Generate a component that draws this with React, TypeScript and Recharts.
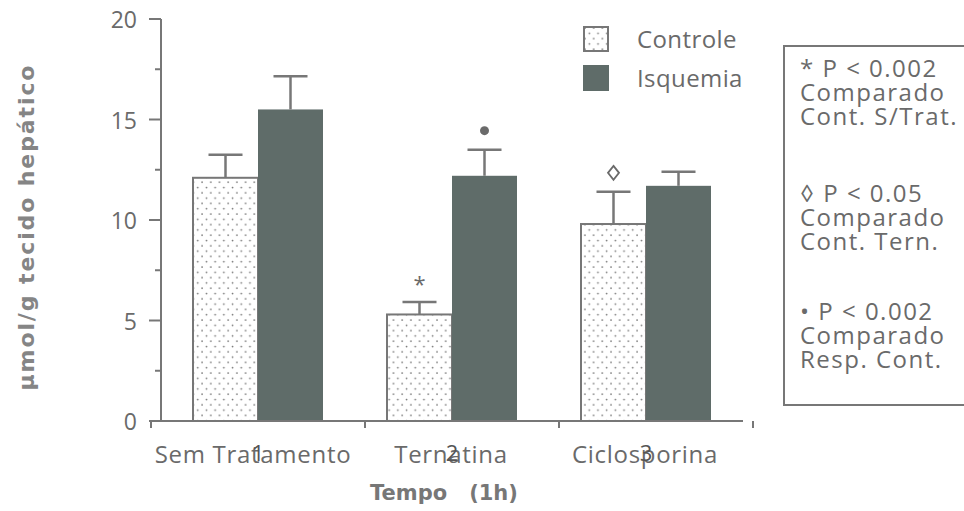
import React from "react";
import { Bar, BarChart, Legend, XAxis, YAxis } from "recharts";

// values (µmol/g), error = upper SEM
const CATEGORIES = ["Sem Tratamento", "Ternatina", "Ciclosporina"];
const TICK_NUMBERS = ["1", "2", "3"];
const CONTROLE = [12.1, 5.3, 9.8];
const CONTROLE_ERR = [1.15, 0.62, 1.6];
const ISQUEMIA = [15.5, 12.2, 11.7];
const ISQUEMIA_ERR = [1.65, 1.3, 0.7];
const CONTROLE_MARKS = ["", "star", "diamond"];
const ISQUEMIA_MARKS = ["", "dot", ""];
const Y_TICKS = [0, 2.5, 5, 7.5, 10, 12.5, 15, 17.5, 20];
const NOTES = [
  ["* P < 0.002", "Comparado", "Cont. S/Trat."],
  ["\u25CA P < 0.05", "Comparado", "Cont. Tern."],
  ["\u2022 P < 0.002", "Comparado", "Resp. Cont."],
];

const data = CATEGORIES.map((name, i) => ({
  name,
  controle: CONTROLE[i],
  controleErr: CONTROLE_ERR[i],
  controleMark: CONTROLE_MARKS[i],
  isquemia: ISQUEMIA[i],
  isquemiaErr: ISQUEMIA_ERR[i],
  isquemiaMark: ISQUEMIA_MARKS[i],
}));

const W = 964;
const H = 511;
const MARGIN = { top: 19, right: 221, left: 101, bottom: 30 };
const PLOT_W = W - MARGIN.left - MARGIN.right;
const BAND = PLOT_W / CATEGORIES.length;

const AXIS = "#777";
const TEXT = "#6a6a6a";
const DARK = "#5f6c69";
const FONT = "'Open Sans', sans-serif";

function Marker({ kind, cx, cy }: { kind: string; cx: number; cy: number }) {
  if (kind === "star")
    return (
      <text x={cx} y={cy + 9} textAnchor="middle" fontSize={22} fontFamily={FONT} fill={TEXT}>
        *
      </text>
    );
  if (kind === "dot") return <circle cx={cx} cy={cy} r={4.5} fill={TEXT} />;
  if (kind === "diamond")
    return (
      <path
        d={`M${cx},${cy - 7} L${cx + 5.5},${cy} L${cx},${cy + 7} L${cx - 5.5},${cy} Z`}
        fill="none"
        stroke={TEXT}
        strokeWidth={1.8}
      />
    );
  return null;
}

function makeShape(key: "controle" | "isquemia") {
  return (props: any) => {
    const { x, y, width, height, payload } = props;
    const v = payload[key];
    const err = payload[key + "Err"];
    const mark = payload[key + "Mark"];
    const errPx = v ? (err * height) / v : 0;
    const cx = x + width / 2;
    const top = y - errPx;
    return (
      <g>
        {key === "controle" ? (
          <rect x={x} y={y} width={width} height={height} fill="url(#dots)" stroke={AXIS} strokeWidth={2} />
        ) : (
          <rect x={x} y={y} width={width} height={height} fill={DARK} />
        )}
        <line x1={cx} x2={cx} y1={y} y2={top} stroke={AXIS} strokeWidth={2.5} />
        <line x1={cx - 17} x2={cx + 17} y1={top} y2={top} stroke={AXIS} strokeWidth={2.5} />
        <Marker kind={mark} cx={cx} cy={top - 19} />
      </g>
    );
  };
}

function YTick({ x, y, payload }: any) {
  const v = payload.value;
  const major = v % 5 === 0;
  const ax = x + 24;
  return (
    <g>
      <line x1={ax - (major ? 12 : 6)} x2={ax} y1={y} y2={y} stroke={AXIS} strokeWidth={2} />
      {major && (
        <text x={x} y={y} textAnchor="end" dominantBaseline="central" fontSize={23} fontFamily={FONT} fill={TEXT}>
          {v}
        </text>
      )}
    </g>
  );
}

function XTick({ x, y, payload, index }: any) {
  const right = x + BAND / 2;
  const left = x - BAND / 2;
  return (
    <g>
      {index === 0 && <line x1={left} x2={left} y1={y} y2={y + 7} stroke={AXIS} strokeWidth={2} />}
      <line x1={right} x2={right} y1={y} y2={y + 7} stroke={AXIS} strokeWidth={2} />
      <text
        x={x - (index === 0 ? 5 : 1)}
        y={y + 32}
        textAnchor="middle"
        dominantBaseline="central"
        fontSize={24}
        letterSpacing={0.7}
        fontFamily={FONT}
        fill={TEXT}
      >
        {payload.value}
      </text>
      {/* the original axis numbers, left printed underneath the names */}
      <text x={x} y={y + 31} textAnchor="middle" dominantBaseline="central" fontSize={22} fontFamily={FONT} fill="#555">
        {TICK_NUMBERS[index]}
      </text>
    </g>
  );
}

function LegendContent({ payload }: any) {
  return (
    <div style={{ display: "flex", flexDirection: "column", gap: 13 }}>
      {(payload || []).map((p: any, i: number) => (
        <div key={i} style={{ display: "flex", alignItems: "center", height: 26 }}>
          <svg width={26} height={26} style={{ marginRight: 28 }}>
            {i === 0 ? (
              <rect x={1} y={1} width={24} height={24} fill="url(#dots)" stroke={AXIS} strokeWidth={2} />
            ) : (
              <rect x={0} y={0} width={26} height={26} fill={DARK} />
            )}
          </svg>
          <span style={{ fontFamily: FONT, fontSize: 24, letterSpacing: 0.4, color: TEXT, lineHeight: "26px" }}>
            {p.value}
          </span>
        </div>
      ))}
    </div>
  );
}

export default function App() {
  const lineY = [[67, 91, 115], [192, 216, 240], [310, 334, 358]];
  return (
    <div style={{ position: "absolute", left: 0, top: 0, width: W, height: H, background: "#fff" }}>
      <BarChart width={W} height={H} data={data} margin={MARGIN} barSize={65} barGap={0}>
        <defs>
          <pattern id="dots" width={8.7} height={10.6} patternUnits="userSpaceOnUse">
            <circle cx={2} cy={2} r={0.9} fill="#777" />
            <circle cx={6.35} cy={7.3} r={0.9} fill="#777" />
          </pattern>
        </defs>
        <YAxis
          domain={[0, 20]}
          ticks={Y_TICKS}
          interval={0}
          width={60}
          tickSize={0}
          tickMargin={24}
          tick={<YTick />}
          axisLine={{ stroke: AXIS, strokeWidth: 2 }}
          label={{
            content: () => (
              <text
                x={26}
                y={228}
                transform="rotate(-90 26 228)"
                textAnchor="middle"
                dominantBaseline="central"
                fontSize={22}
                fontWeight="bold"
                fontFamily="'DejaVu Sans', sans-serif"
                fill="#858585"
                textLength={325}
                lengthAdjust="spacing"
              >
                µmol/g tecido hepático
              </text>
            ),
          }}
        />
        <XAxis
          dataKey="name"
          height={60}
          tickSize={0}
          tickMargin={0}
          interval={0}
          tick={<XTick />}
          axisLine={{ stroke: AXIS, strokeWidth: 2 }}
          label={{
            content: () => (
              <text
                x={370}
                y={493}
                dominantBaseline="central"
                fontSize={21}
                fontWeight="bold"
                fontFamily="'DejaVu Sans', sans-serif"
                fill="#777"
              >
                Tempo
                <tspan dx={22}>(1h)</tspan>
              </text>
            ),
          }}
        />
        <Legend
          layout="horizontal"
          verticalAlign="middle"
          align="center"
          content={<LegendContent />}
          wrapperStyle={{ position: "absolute", left: 583, top: 26, width: 200 }}
        />
        <Bar dataKey="controle" name="Controle" fill="#fff" shape={makeShape("controle")} isAnimationActive={false} />
        <Bar dataKey="isquemia" name="Isquemia" fill={DARK} shape={makeShape("isquemia")} isAnimationActive={false} />
      </BarChart>
      <svg width={W} height={H} style={{ position: "absolute", left: 0, top: 0, pointerEvents: "none" }}>
        <rect x={784} y={46} width={200} height={359} fill="none" stroke={AXIS} strokeWidth={2} />
        {NOTES.map((lines, g) =>
          lines.map((t, j) => (
            <text
              key={`${g}-${j}`}
              x={800}
              y={lineY[g][j]}
              dominantBaseline="central"
              fontSize={24}
              letterSpacing={1.5}
              fontFamily={FONT}
              fill={TEXT}
            >
              {t}
            </text>
          ))
        )}
      </svg>
    </div>
  );
}
